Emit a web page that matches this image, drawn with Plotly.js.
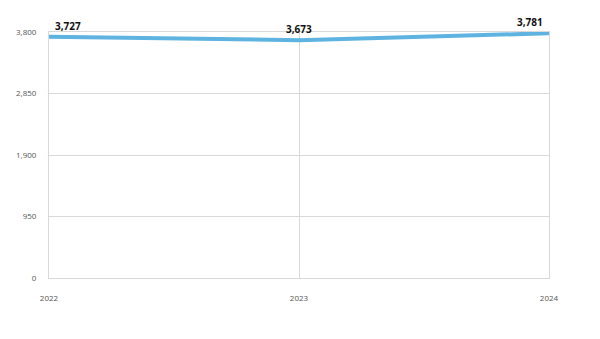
<!DOCTYPE html>
<html>
<head>
<meta charset="utf-8">
<script src="https://cdn.plot.ly/plotly-3.0.1.min.js"></script>
<style>html,body{margin:0;padding:0;background:#fff;}#chart{width:600px;height:339px;}</style>
</head>
<body>
<div id="chart"></div>
<script>
const years = [2022, 2023, 2024];
const values = [3727, 3673, 3781];
const labels = ['3,727', '3,673', '3,781'];
const yTicks = [0, 950, 1900, 2850, 3800];
const yTickLabels = ['0', '950', '1,900', '2,850', '3,800'];

const trace = {
  x: years,
  y: values,
  mode: 'lines',
  line: {color: '#5eb3e0', width: 4},
  cliponaxis: false,
  hoverinfo: 'none'
};

const anchors = ['left', 'center', 'right'];
const shifts = [4, 0, -4];
const annotations = years.map((yr, i) => ({
  x: yr, y: values[i], text: '<b>' + labels[i] + '</b>',
  showarrow: false, xanchor: anchors[i], yanchor: 'bottom',
  xshift: shifts[i], yshift: 2,
  font: {family: 'Open Sans, sans-serif', size: 10, color: '#111'}
}));

const layout = {
  width: 600, height: 339,
  margin: {l: 49, r: 51, t: 32, b: 61},
  paper_bgcolor: '#fff', plot_bgcolor: '#fff',
  showlegend: false,
  font: {family: 'Open Sans, sans-serif', color: '#555', size: 8},
  annotations: annotations,
  xaxis: {
    range: [2022, 2024],
    tickvals: years,
    ticktext: years.map(String),
    showgrid: true, gridcolor: '#d9d9d9', gridwidth: 1,
    zeroline: false, showline: true, mirror: true, linecolor: '#d9d9d9', linewidth: 1,
    ticks: '', ticklabelstandoff: 12, tickfont: {size: 8, color: '#555'}
  },
  yaxis: {
    range: [0, 3800],
    tickvals: yTicks,
    ticktext: yTickLabels,
    showgrid: true, gridcolor: '#d9d9d9', gridwidth: 1,
    zeroline: false, showline: true, mirror: true, linecolor: '#d9d9d9', linewidth: 1,
    ticks: '', ticklabelstandoff: 10, tickfont: {size: 8, color: '#555'}
  }
};

Plotly.newPlot('chart', [trace], layout, {displayModeBar: false, staticPlot: true});
</script>
</body>
</html>
